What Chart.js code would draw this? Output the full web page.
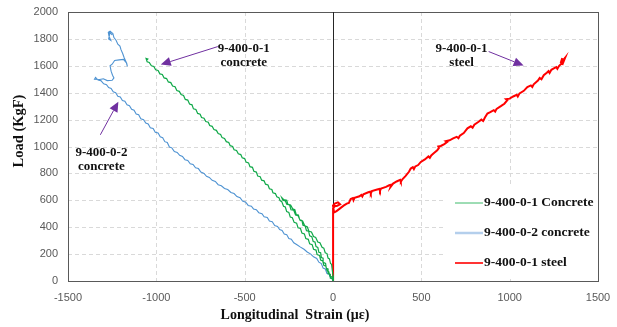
<!DOCTYPE html>
<html>
<head>
<meta charset="utf-8">
<script src="https://cdn.jsdelivr.net/npm/chart.js@4.4.1/dist/chart.umd.min.js"></script>
<style>
body { margin: 0; background: #fff; }
#wrap { width: 617px; height: 327px; }
</style>
</head>
<body>
<div id="wrap"><canvas id="myChart"></canvas></div>
<script>
// tick labels
var xTicks = [-1500, -1000, -500, 0, 500, 1000, 1500];
var yTicks = [0, 200, 400, 600, 800, 1000, 1200, 1400, 1600, 1800, 2000];

var seriesNames = ["9-400-0-1 Concrete", "9-400-0-2 concrete", "9-400-0-1 steel"];

// 9-400-0-1 concrete (green): load, unload, reload to the top
var strain1 = [0, -5, -12, -15, -24, -28, -38, -42, -52, -56, -66, -70, -80, -86, -96, -102, -112, -120, -132, -138,
  -150, -158, -170, -176, -188, -196, -208, -216, -228, -240, -255, -262, -280, -290,
  -284, -270, -262, -246, -238, -222, -212, -198, -186, -172, -160, -146, -136, -122, -110, -98, -86, -74,
  -62, -52, -44, -34, -28, -20, -14, -8, -4, 0, 2,
  -6, -18, -24, -34, -40, -52, -58, -70, -76, -90, -96, -110, -118, -132, -140, -154, -162, -176, -184, -198,
  -206, -220, -230, -242, -250, -262, -270, -280, -290, -300, -306,
  -318, -326, -340, -346, -360, -368, -382, -390, -404, -412, -426, -434, -448, -456, -470, -478, -492, -500,
  -514, -522, -536, -546, -560, -568, -582, -590, -604, -614, -628, -636, -650, -660, -674, -684, -698, -706,
  -720, -730, -744, -752, -766, -776, -790, -798, -812, -822, -836, -846, -860, -870, -884, -894, -908, -918,
  -932, -942, -956, -966, -980, -990, -1004, -1014, -1028, -1040, -1052, -1058, -1048, -1055];
var load1 = [0, 20, 22, 50, 55, 90, 95, 130, 136, 170, 175, 210, 214, 250, 256, 290, 294, 330, 336, 370,
  374, 410, 414, 450, 455, 490, 494, 530, 536, 565, 570, 600, 606, 620,
  600, 596, 570, 566, 530, 526, 490, 486, 450, 446, 410, 404, 370, 364, 330, 324, 290, 284,
  250, 244, 210, 204, 170, 164, 130, 124, 80, 40, 0,
  30, 36, 70, 76, 110, 116, 150, 156, 190, 196, 230, 236, 270, 276, 310, 316, 350, 356, 390, 396,
  430, 436, 470, 476, 510, 516, 550, 556, 590, 598, 620,
  626, 650, 656, 680, 686, 714, 720, 745, 750, 775, 780, 810, 816, 845, 850, 878, 884, 910,
  916, 940, 946, 970, 976, 1000, 1006, 1030, 1036, 1060, 1066, 1090, 1096, 1120, 1126, 1150, 1156, 1180,
  1186, 1210, 1216, 1240, 1246, 1275, 1280, 1310, 1316, 1345, 1350, 1380, 1386, 1410, 1416, 1445, 1450, 1475,
  1480, 1505, 1510, 1535, 1540, 1565, 1570, 1595, 1600, 1625, 1630, 1655, 1650, 1640];

// 9-400-0-2 concrete (blue)
var strain2 = [0, -6, -14, -22, -34, -44, -56, -66, -80, -92, -110, -126, -146, -164, -184, -204, -222, -236, -250,
  -262, -276, -288, -302, -314, -330, -344, -360, -372, -390, -402, -420, -434, -450, -462, -480, -494, -512,
  -526, -544, -560, -578, -596, -614, -632, -650, -666, -684, -700, -716, -730, -748, -762, -778, -792, -808,
  -822, -838, -852, -868, -882, -898, -912, -926, -938, -952, -964, -978, -990, -1006, -1018, -1034, -1046,
  -1060, -1072, -1088, -1100, -1114, -1126, -1140, -1152, -1166, -1178, -1192, -1204, -1218, -1230, -1244,
  -1256, -1270, -1282, -1298, -1314, -1330, -1344, -1350, -1320, -1300, -1278, -1250, -1240, -1248, -1256,
  -1262, -1250, -1236, -1210, -1186, -1168, -1164, -1170, -1182, -1190, -1200, -1206, -1218, -1228, -1240,
  -1246, -1262, -1272, -1268, -1258, -1270, -1262, -1250];
var load2 = [0, 20, 24, 50, 56, 90, 96, 130, 140, 168, 180, 200, 216, 236, 252, 270, 284, 310, 316,
  345, 350, 376, 382, 405, 412, 440, 446, 472, 478, 500, 508, 530, 536, 556, 562, 586, 594,
  620, 628, 650, 658, 680, 688, 708, 716, 740, 748, 770, 778, 800, 810, 836, 842, 866, 872,
  896, 902, 926, 934, 956, 962, 990, 996, 1030, 1036, 1066, 1072, 1100, 1106, 1134, 1140, 1168,
  1174, 1200, 1206, 1236, 1242, 1270, 1276, 1304, 1310, 1336, 1342, 1368, 1374, 1400, 1406,
  1432, 1438, 1460, 1466, 1490, 1494, 1514, 1500, 1498, 1504, 1490, 1492, 1510, 1530, 1560,
  1600, 1612, 1640, 1644, 1648, 1620, 1596, 1625, 1660, 1690, 1720, 1746, 1760, 1790, 1810,
  1840, 1858, 1850, 1820, 1790, 1800, 1846, 1830];

// 9-400-0-1 steel (red)
var strain3 = [0, 0, 0, 0, 2, 10, 24, 40, 28, 10, 0, 6, 20, 40, 60, 78, 90, 100, 112, 116, 122, 150, 160, 166,
  172, 200, 210, 214, 220, 250, 262, 266, 272, 300, 318, 330, 326, 340, 360, 380, 384, 394, 410, 430, 440,
  452, 458, 466, 482, 497, 520, 540, 548, 556, 570, 590, 600, 596, 610, 630, 647, 640, 660, 680, 700, 710,
  718, 740, 761, 780, 790, 800, 820, 840, 850, 860, 874, 890, 910, 918, 926, 950, 970, 987, 980, 1000,
  1020, 1040, 1046, 1056, 1080, 1100, 1120, 1128, 1136, 1160, 1170, 1180, 1193, 1210, 1220, 1226, 1236,
  1250, 1264, 1270, 1280, 1296, 1306, 1296, 1290, 1300, 1314, 1302];
var load3 = [0, 200, 400, 500, 540, 556, 560, 570, 585, 575, 560, 510, 520, 540, 560, 575, 580, 610, 616, 600,
  618, 630, 640, 628, 644, 660, 664, 650, 668, 680, 684, 670, 688, 700, 712, 716, 700, 724, 740, 752, 738,
  758, 780, 812, 836, 846, 832, 852, 862, 885, 904, 926, 916, 934, 950, 972, 990, 1000, 1004, 1018, 1035,
  1040, 1046, 1060, 1072, 1062, 1080, 1100, 1135, 1150, 1140, 1162, 1180, 1200, 1190, 1215, 1245, 1255,
  1270, 1260, 1280, 1300, 1318, 1345, 1352, 1356, 1372, 1384, 1372, 1395, 1414, 1442, 1454, 1442, 1462,
  1490, 1510, 1500, 1530, 1548, 1560, 1546, 1570, 1580, 1590, 1578, 1600, 1620, 1646, 1650, 1625, 1614,
  1660, 1640];

function pairs(xs, ys) {
  var out = [];
  for (var i = 0; i < xs.length; i++) out.push({x: xs[i], y: ys[i]});
  return out;
}

// text notes with arrows (data units)
var notes = [
  {lines: ["9-400-0-1", "concrete"], at: [-505, 1729], from: [-652, 1743], to: [-975, 1609]},
  {lines: ["9-400-0-2", "concrete"], at: [-1311, 951], from: [-1317, 1087], to: [-1215, 1333]},
  {lines: ["9-400-0-1", "steel"], at: [728, 1729], from: [881, 1706], to: [1079, 1602]}
];

var serif = "'Liberation Serif', 'Times New Roman', serif";

var framePlugin = {
  id: 'frame',
  beforeDatasetsDraw: function(chart) {
    var a = chart.chartArea, c = chart.ctx, sx = chart.scales.x, sy = chart.scales.y;
    c.save();
    // dashed grid
    c.strokeStyle = '#d9d9d9';
    c.lineWidth = 1;
    c.setLineDash([4, 3]);
    xTicks.forEach(function(v) {
      var p = Math.round(sx.getPixelForValue(v)) + 0.5;
      c.beginPath(); c.moveTo(p, a.top); c.lineTo(p, a.bottom); c.stroke();
    });
    yTicks.forEach(function(v) {
      var p = Math.round(sy.getPixelForValue(v)) + 0.5;
      c.beginPath(); c.moveTo(a.left, p); c.lineTo(a.right, p); c.stroke();
    });
    c.setLineDash([]);
    c.strokeStyle = '#595959';
    c.strokeRect(Math.round(a.left) + 0.5, Math.round(a.top) + 0.5, Math.round(a.right - a.left), Math.round(a.bottom - a.top));
    var x0 = Math.round(sx.getPixelForValue(0)) + 0.5;
    c.strokeStyle = '#262626';
    c.beginPath();
    c.moveTo(x0, a.top);
    c.lineTo(x0, a.bottom);
    c.stroke();
    c.restore();
  }
};

var notesPlugin = {
  id: 'notes',
  afterDatasetsDraw: function(chart) {
    var c = chart.ctx, sx = chart.scales.x, sy = chart.scales.y;
    c.save();
    notes.forEach(function(n) {
      var x1 = sx.getPixelForValue(n.from[0]), y1 = sy.getPixelForValue(n.from[1]);
      var x2 = sx.getPixelForValue(n.to[0]), y2 = sy.getPixelForValue(n.to[1]);
      var ang = Math.atan2(y2 - y1, x2 - x1), hl = 10, hw = 4.5;
      c.strokeStyle = '#7030a0';
      c.fillStyle = '#7030a0';
      c.lineWidth = 1;
      c.beginPath();
      c.moveTo(x1, y1);
      c.lineTo(x2 - hl * Math.cos(ang), y2 - hl * Math.sin(ang));
      c.stroke();
      c.beginPath();
      c.moveTo(x2, y2);
      c.lineTo(x2 - hl * Math.cos(ang) + hw * Math.sin(ang), y2 - hl * Math.sin(ang) - hw * Math.cos(ang));
      c.lineTo(x2 - hl * Math.cos(ang) - hw * Math.sin(ang), y2 - hl * Math.sin(ang) + hw * Math.cos(ang));
      c.closePath();
      c.fill();
      c.fillStyle = '#111';
      c.font = "bold 13px " + serif;
      c.textAlign = 'center';
      c.textBaseline = 'middle';
      var tx = sx.getPixelForValue(n.at[0]), ty = sy.getPixelForValue(n.at[1]);
      n.lines.forEach(function(t, i) { c.fillText(t, tx, ty + i * 14); });
    });
    c.restore();
  }
};

var legendPlugin = {
  id: 'boxLegend',
  afterDatasetsDraw: function(chart) {
    var c = chart.ctx, a = chart.chartArea;
    c.save();
    c.fillStyle = '#fff';
    c.fillRect(444, 187, a.right - 445, 92);
    chart.data.datasets.forEach(function(ds, i) {
      var y = 203 + i * 30;
      c.strokeStyle = ds.legendColor;
      c.lineWidth = ds.legendWidth;
      c.beginPath();
      c.moveTo(455, y);
      c.lineTo(483, y);
      c.stroke();
      c.fillStyle = '#111';
      c.font = "bold 13.5px " + serif;
      c.textAlign = 'left';
      c.textBaseline = 'middle';
      c.fillText(ds.label, 484, y);
    });
    c.restore();
  }
};

var titlePlugin = {
  id: 'axisTitles',
  afterDraw: function(chart) {
    var c = chart.ctx;
    c.save();
    c.fillStyle = '#111';
    c.font = "bold 14px " + serif;
    c.textAlign = 'center';
    c.textBaseline = 'middle';
    c.fillText("Longitudinal  Strain (\u03bc\u03b5)", 295, 315);
    c.font = "bold 14.5px " + serif;
    c.translate(19, 131);
    c.rotate(-Math.PI / 2);
    c.fillText("Load (KgF)", 0, 0);
    c.restore();
  }
};

var tickFont = {family: "'Liberation Sans', Arial, sans-serif", size: 11};

new Chart(document.getElementById("myChart"), {
  type: "scatter",
  data: {
    datasets: [{
      label: seriesNames[0],
      data: pairs(strain1, load1),
      showLine: true,
      borderColor: "#0fa848",
      borderWidth: 1.2,
      legendColor: "#3cba6a",
      legendWidth: 1,
      pointRadius: 0
    }, {
      label: seriesNames[1],
      data: pairs(strain2, load2),
      showLine: true,
      borderColor: "#4f93d2",
      borderWidth: 1.1,
      legendColor: "#b4cfec",
      legendWidth: 2.5,
      pointRadius: 0
    }, {
      label: seriesNames[2],
      data: pairs(strain3, load3),
      showLine: true,
      borderColor: "#ff0000",
      borderWidth: 2,
      legendColor: "#ff0000",
      legendWidth: 1.6,
      pointRadius: 0
    }]
  },
  options: {
    responsive: true,
    maintainAspectRatio: false,
    animation: false,
    layout: {padding: {top: 12, right: 19, left: 0, bottom: 0}},
    plugins: {legend: {display: false}, tooltip: {enabled: false}},
    scales: {
      x: {
        type: 'linear',
        min: xTicks[0],
        max: xTicks[xTicks.length - 1],
        afterBuildTicks: function(s) { s.ticks = xTicks.map(function(v) { return {value: v}; }); },
        afterFit: function(s) { s.height = 46; },
        grid: {display: false},
        border: {display: false},
        ticks: {color: '#595959', font: tickFont, padding: 2, callback: function(v) { return String(v); }}
      },
      y: {
        type: 'linear',
        min: yTicks[0],
        max: yTicks[yTicks.length - 1],
        afterBuildTicks: function(s) { s.ticks = yTicks.map(function(v) { return {value: v}; }); },
        afterFit: function(s) { s.width = 68; },
        grid: {display: false},
        border: {display: false},
        ticks: {color: '#595959', font: tickFont, padding: 2, callback: function(v) { return String(v); }}
      }
    }
  },
  plugins: [framePlugin, notesPlugin, legendPlugin, titlePlugin]
});
</script>
</body>
</html>
